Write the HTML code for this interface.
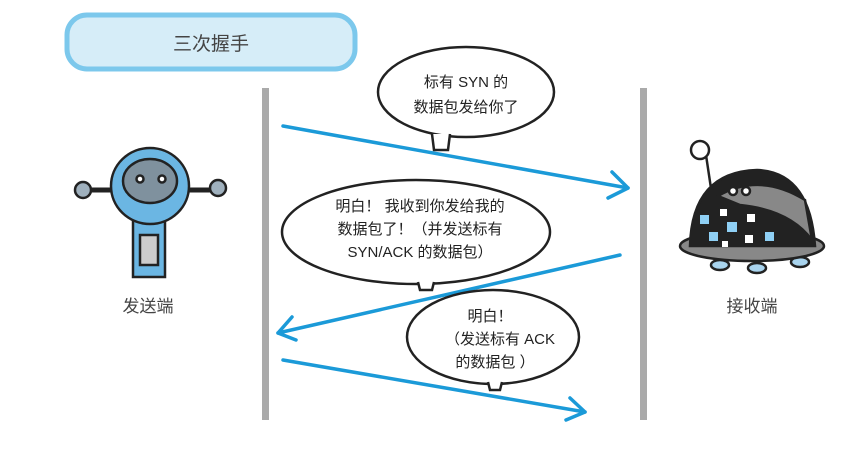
<!DOCTYPE html>
<html><head><meta charset="utf-8"><style>
body{margin:0;width:853px;height:458px;background:#fff;overflow:hidden;font-family:"Liberation Sans","Noto Sans CJK SC",sans-serif}
</style></head><body>
<svg width="853" height="458" viewBox="0 0 853 458" xmlns="http://www.w3.org/2000/svg" font-family="'Liberation Sans','Noto Sans CJK SC',sans-serif">
<rect x="67" y="15" width="288" height="54" rx="20" fill="#d6edf8" stroke="#7cc8ec" stroke-width="5"/>
<text x="211" y="50" font-size="19" fill="#444" text-anchor="middle">三次握手</text>
<rect x="262" y="88" width="7" height="332" fill="#aaa"/>
<rect x="640" y="88" width="7" height="332" fill="#aaa"/>
<g stroke="#1b9ad8" stroke-width="3.5" fill="none" stroke-linecap="round" stroke-linejoin="round">
<line x1="283" y1="126" x2="628" y2="188"/><polyline points="612,172 628,188 608,198"/>
<line x1="620" y1="255" x2="278" y2="333"/><polyline points="292,317 278,333 296,340"/>
<line x1="283" y1="360" x2="585" y2="412"/><polyline points="570,398 585,412 566,420"/>
</g>
<g stroke="#222" stroke-width="2.5" fill="#fff">
<ellipse cx="466" cy="92" rx="88" ry="45"/>
<ellipse cx="416" cy="232" rx="134" ry="52"/>
<ellipse cx="493" cy="337" rx="86" ry="47"/>
</g>
<g stroke="#222" stroke-width="2.5" fill="#fff">
<path d="M432 134 L434 150 L448 150 L450 134"/>
<path d="M418 282 L420 290 L432 290 L434 282"/>
<path d="M488 382 L490 390 L500 390 L502 382"/>
</g>
<g font-size="15" fill="#222" text-anchor="middle">
<text x="466" y="87">标有 SYN 的</text>
<text x="466" y="112">数据包发给你了</text>
<text x="420" y="211">明白！ 我收到你发给我的</text>
<text x="420" y="234">数据包了！（并发送标有</text>
<text x="420" y="257">SYN/ACK 的数据包）</text>
<text x="490" y="321">明白！</text>
<text x="500" y="344">（发送标有 ACK</text>
<text x="495" y="367">的数据包 ）</text>
</g>
<g stroke="#222" stroke-width="2.5">
<line x1="85" y1="190" x2="215" y2="190" stroke-width="5"/>
<circle cx="83" cy="190" r="8" fill="#9fb0bd"/><circle cx="218" cy="188" r="8" fill="#9fb0bd"/>
<rect x="133" y="215" width="32" height="62" fill="#6bb6e3"/>
<rect x="140" y="235" width="18" height="30" fill="#ccc"/>
<ellipse cx="150" cy="186" rx="39" ry="38" fill="#6bb6e3"/>
<ellipse cx="150" cy="181" rx="27" ry="22" fill="#7f919e"/>
<circle cx="140" cy="179" r="3.5" fill="#fff"/><circle cx="162" cy="179" r="3.5" fill="#fff"/>
</g>
<text x="148" y="312" font-size="17" fill="#444" text-anchor="middle">发送端</text>
<g stroke="#222" stroke-width="2.5">
<line x1="706" y1="155" x2="712" y2="195"/>
<circle cx="700" cy="150" r="9" fill="#fff"/>
<ellipse cx="720" cy="265" rx="9" ry="5" fill="#a9d4ee"/><ellipse cx="757" cy="268" rx="9" ry="5" fill="#a9d4ee"/><ellipse cx="800" cy="262" rx="9" ry="5" fill="#a9d4ee"/>
<ellipse cx="752" cy="246" rx="72" ry="15" fill="#888"/>
<path d="M690 246 Q692 172 757 170 Q810 172 815 246 Z" fill="#222"/>
<path d="M718 196 Q760 172 805 200 L812 240 Q790 210 740 205 Z" fill="#888"/>
<circle cx="733" cy="191" r="4" fill="#fff"/><circle cx="746" cy="191" r="4" fill="#fff"/>
</g>
<g fill="#8fd0f5"><rect x="700" y="215" width="9" height="9"/><rect x="727" y="222" width="10" height="10"/><rect x="765" y="232" width="9" height="9"/><rect x="709" y="232" width="9" height="9"/></g>
<g fill="#fff"><rect x="720" y="209" width="7" height="7"/><rect x="747" y="214" width="8" height="8"/><rect x="745" y="235" width="8" height="8"/><rect x="722" y="241" width="6" height="6"/></g>
<text x="752" y="312" font-size="17" fill="#444" text-anchor="middle">接收端</text>
</svg>
</body></html>
